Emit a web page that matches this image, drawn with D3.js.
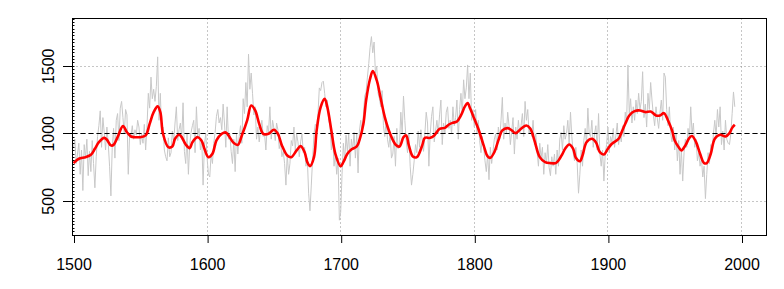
<!DOCTYPE html>
<html>
<head>
<meta charset="utf-8">
<script src="https://cdn.jsdelivr.net/npm/d3@7"></script>
<style>
  html, body { margin: 0; padding: 0; background: #ffffff; }
  svg { display: block; }
  text { font-family: "Liberation Sans", Arial, sans-serif; font-size: 16px; fill: #000; }
</style>
</head>
<body>
<svg id="chart" width="784" height="289"></svg>
<script>
// ---------------- DATA ----------------
const startYear = 1500;
// annual values 1500-1995 (grey line)
const annualValues = [
  900, 960, 780, 850, 930, 700, 880, 580, 920, 820,
  960, 690, 870, 720, 950, 780, 600, 830, 980, 1060,
  1170, 900, 1120, 1010, 880, 1050, 930, 760, 540, 900,
  1040, 820, 1100, 1150, 950, 1190, 1240, 1120, 1000, 1180,
  1140, 700, 1000, 980, 1060, 960, 1030, 990, 1100, 1050,
  920, 1000, 930, 1070, 880, 1050, 1300, 1190, 1420, 1260,
  1330, 1240, 1350, 1570, 1100, 1300, 1000, 1050, 880, 830,
  800, 970, 830, 860, 1020, 940, 1080, 1200, 950, 1030,
  1080, 960, 1230, 870, 780, 1000, 700, 920, 1010, 1060,
  1100, 860, 1200, 980, 1040, 880, 960, 620, 920, 1000,
  820, 700, 680, 850, 780, 930, 1010, 1130, 1180, 1080,
  1120, 1030, 1220, 1080, 900, 1200, 960, 1000, 870, 780,
  960, 720, 1000, 850, 980, 1060, 930, 1260, 1150, 1380,
  1200, 1590, 1330, 1450, 1300, 1140, 1200, 960, 1050, 940,
  1030, 1100, 980, 1000, 880, 1060, 1010, 1200, 960, 1100,
  1040, 950, 1080, 1030, 890, 940, 830, 870, 780, 620,
  850, 700, 780, 950, 910, 1050, 880, 1000, 940, 830,
  940, 1000, 860, 900, 760, 820, 560, 430, 620, 820,
  1000, 1070, 1050, 1150, 1340, 1320, 1380, 1390, 1300, 1200,
  1250, 1100, 1060, 880, 1000, 760, 850, 700, 820, 360,
  420, 700, 930, 800, 990, 870, 1000, 760, 960, 880,
  1010, 820, 1000, 710, 1020, 1100, 1010, 1140, 1280, 1310,
  1420, 1520, 1640, 1720, 1600, 1680, 1450, 1500, 1300, 1260,
  1200, 1320, 1060, 980, 1100, 960, 900, 1000, 820, 850,
  980, 760, 1040, 890, 920, 1160, 1000, 1280, 1100, 950,
  860, 1000, 760, 620, 700, 800, 920, 860, 1020, 900,
  1030, 950, 870, 1000, 1160, 1080, 760, 1000, 1130, 1200,
  940, 1020, 1100, 1000, 1140, 1250, 920, 1080, 1000, 1160,
  1200, 1040, 1100, 1000, 1200, 1060, 1120, 1250, 960, 1180,
  1300, 1150, 1400, 1260, 1340, 1510, 1260, 1450, 1100, 1180,
  1050, 1180, 1000, 1100, 950, 860, 980, 900, 800, 720,
  850, 660, 900, 780, 870, 960, 1000, 880, 1050, 960,
  1100, 1270, 960, 1080, 1000, 1160, 1060, 920, 1020, 1120,
  850, 1050, 960, 1100, 1000, 1060, 1150, 980, 1240, 1100,
  1180, 1000, 1050, 980, 1100, 920, 1000, 870, 760, 930,
  820, 900, 700, 860, 780, 920, 750, 690, 830, 760,
  850, 700, 880, 760, 960, 1010, 880, 1060, 960, 1000,
  1100, 920, 1160, 980, 860, 800, 900, 780, 560, 700,
  880, 760, 950, 1040, 920, 1190, 1000, 980, 1100, 900,
  1000, 1060, 880, 1150, 850, 760, 880, 650, 850, 920,
  1050, 860, 980, 940, 1040, 900, 990, 1080, 920, 1000,
  940, 1060, 980, 1160, 1080, 1510, 1150, 1260, 1080, 1200,
  1100, 1250, 1150, 1300, 1180, 1240, 1460, 1120, 1220, 1050,
  1300, 1180, 1380, 1250, 1140, 1060, 1200, 1110, 1040, 1160,
  1250, 1100, 1450, 1420, 1180, 1060, 1200, 1000, 940, 1050,
  880, 1000, 800, 950, 700, 880, 650, 860, 960, 900,
  1040, 960, 1200, 1000, 1080, 900, 960, 800, 860, 760,
  820, 680, 760, 520, 700, 860, 780, 920, 880, 1000,
  1100, 980, 1180, 1050, 1200, 920, 1020, 880, 1100, 960,
  930, 920, 1000, 1150, 1310, 1200
];

// smoothed curve (red line)
const smoothYears = [
  1500, 1504, 1509, 1513, 1516, 1519, 1523, 1525, 1528, 1530, 1533, 1537, 1540, 1543, 1546, 1550,
  1554, 1557, 1560, 1563, 1565, 1567, 1571, 1574, 1576, 1579, 1581, 1584, 1587, 1589, 1593, 1596,
  1598, 1601, 1604, 1607, 1611, 1614, 1616, 1620, 1623, 1626, 1630, 1633, 1636, 1639, 1642, 1646,
  1650, 1653, 1656, 1660, 1663, 1667, 1670, 1673, 1675, 1677, 1680, 1682, 1685, 1688, 1690, 1693,
  1696, 1700, 1702, 1705, 1708, 1712, 1714, 1717, 1719, 1722, 1724, 1727, 1730, 1733, 1737, 1741,
  1744, 1747, 1749, 1751, 1754, 1757, 1761, 1763, 1767, 1770, 1774, 1778, 1781, 1784, 1787, 1790,
  1793, 1795, 1797, 1800, 1803, 1807, 1810, 1812, 1815, 1818, 1821, 1825, 1828, 1831, 1835, 1839,
  1842, 1845, 1849, 1853, 1857, 1861, 1863, 1866, 1868, 1871, 1874, 1876, 1879, 1881, 1884, 1888,
  1891, 1894, 1897, 1900, 1903, 1908, 1910, 1913, 1916, 1920, 1924, 1928, 1932, 1936, 1939, 1942,
  1945, 1948, 1950, 1953, 1955, 1958, 1961, 1963, 1966, 1969, 1972, 1974, 1977, 1980, 1984, 1988,
  1991, 1993, 1995
];
const smoothValues = [
  783, 815, 827, 844, 889, 938, 970, 956, 914, 918, 975, 1057, 1012, 980, 975, 975,
  988, 1074, 1160, 1203, 1160, 1000, 901, 906, 963, 993, 975, 921, 894, 938, 975, 946,
  889, 827, 852, 951, 1000, 1010, 988, 931, 918, 988, 1099, 1210, 1173, 1074, 1000, 1000,
  1030, 1000, 914, 839, 827, 877, 909, 864, 790, 760, 827, 1025, 1198, 1259, 1198, 1025,
  852, 760, 790, 852, 884, 906, 951, 1074, 1247, 1408, 1464, 1395, 1259, 1124, 1000, 921,
  906, 975, 988, 914, 832, 827, 914, 970, 970, 988, 1037, 1044, 1069, 1082, 1091, 1136,
  1203, 1227, 1185, 1111, 1037, 914, 832, 822, 864, 951, 1025, 1042, 1025, 1005, 1037, 1062,
  1037, 951, 827, 790, 783, 783, 802, 852, 889, 921, 889, 822, 797, 839, 938, 963,
  938, 864, 847, 889, 926, 963, 1005, 1074, 1136, 1168, 1173, 1161, 1165, 1136, 1136, 1153,
  1099, 1025, 951, 901, 877, 914, 970, 983, 938, 852, 783, 783, 852, 963, 993, 980,
  1005, 1044, 1067
];

const xTicks = [1500, 1600, 1700, 1800, 1900, 2000];
const yTicks = [500, 1000, 1500];
const refValue = 1000;

// ---------------- LAYOUT ----------------
const box = { left: 72.5, right: 766.5, top: 18.5, bottom: 235.5 };
const svg = d3.select("#chart");

const x = d3.scaleLinear().domain([1500, 2000]).range([73.5, 741.5]);
const y = d3.scaleLinear().domain([500, 1500]).range([201.3, 66.3]);
const yMin = y.invert(box.bottom), yMax = y.invert(box.top);

svg.append("defs").append("clipPath").attr("id", "clip")
  .append("rect").attr("x", box.left).attr("y", box.top)
  .attr("width", box.right - box.left).attr("height", box.bottom - box.top);

const crisp = v => Math.round(v - 0.5) + 0.5;

// grid (dotted)
const grid = svg.append("g").attr("stroke", "#8c8c8c").attr("stroke-width", 1)
  .attr("stroke-dasharray", "1,3");
xTicks.filter(t => t > 1500).forEach(t => {
  grid.append("line").attr("x1", crisp(x(t))).attr("x2", crisp(x(t)))
    .attr("y1", box.top).attr("y2", box.bottom);
});
yTicks.forEach(t => {
  grid.append("line").attr("x1", box.left).attr("x2", box.right)
    .attr("y1", crisp(y(t))).attr("y2", crisp(y(t)));
});

const plot = svg.append("g").attr("clip-path", "url(#clip)");

// grey annual line
const annual = annualValues.map((v, i) => ({ year: startYear + i, value: v }));
plot.append("path").datum(annual)
  .attr("fill", "none").attr("stroke", "#c8c8c8").attr("stroke-width", 1)
  .attr("d", d3.line().x(d => x(d.year)).y(d => y(d.value)));

// dashed reference line
plot.append("line").attr("x1", box.left).attr("x2", box.right)
  .attr("y1", crisp(y(refValue))).attr("y2", crisp(y(refValue)))
  .attr("stroke", "#000").attr("stroke-width", 1).attr("stroke-dasharray", "5,3");

// red smoothed line
const smooth = smoothYears.map((yr, i) => ({ year: yr, value: smoothValues[i] }));
plot.append("path").datum(smooth)
  .attr("fill", "none").attr("stroke", "#ff0000").attr("stroke-width", 2.6)
  .attr("stroke-linejoin", "round")
  .attr("d", d3.line().curve(d3.curveCatmullRom.alpha(0.5)).x(d => x(d.year)).y(d => y(d.value)));

// box
svg.append("rect").attr("x", box.left).attr("y", box.top)
  .attr("width", box.right - box.left).attr("height", box.bottom - box.top)
  .attr("fill", "none").attr("stroke", "#000").attr("stroke-width", 1);

// x axis
const xAxis = d3.axisBottom(x).tickValues(xTicks).tickSize(8).tickPadding(16).tickFormat(d3.format("d"));
const gx = svg.append("g").attr("transform", `translate(0,${box.bottom - 0.5})`).call(xAxis);
gx.select(".domain").remove();
gx.selectAll(".tick line").attr("stroke", "#000").attr("transform", "translate(0.5,0)");
gx.selectAll("text").style("font-size", "16px").style("font-family", "'Liberation Sans', Arial, sans-serif");

// y axis major ticks
const gy = svg.append("g");
yTicks.forEach(t => {
  const yy = crisp(y(t));
  gy.append("line").attr("x1", 63).attr("x2", box.left).attr("y1", yy).attr("y2", yy).attr("stroke", "#000");
  gy.append("text").attr("transform", `translate(53.5,${y(t)}) rotate(-90)`)
    .attr("text-anchor", "middle").text(t);
});
// y minor ticks (inside)
d3.range(250, 1851, 25).forEach(t => {
  const yy = crisp(y(t));
  if (yy < box.top || yy > box.bottom) return;
  gy.append("line").attr("x1", box.left).attr("x2", box.left + 2).attr("y1", yy).attr("y2", yy).attr("stroke", "#000");
});
</script>
</body>
</html>
